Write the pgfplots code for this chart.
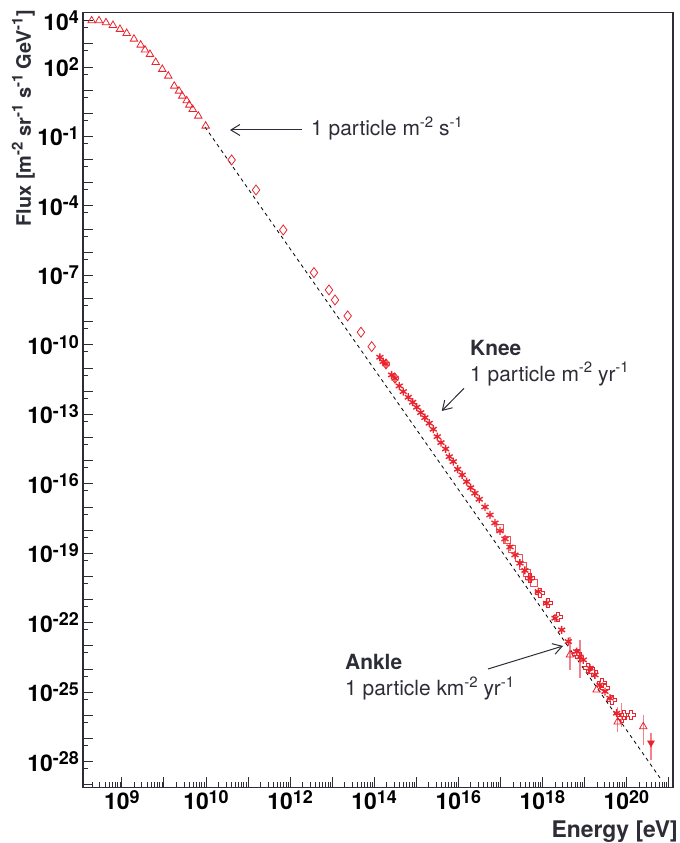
\documentclass[border=0pt]{standalone}
\usepackage{fontspec}
\setmainfont{TeX Gyre Heros}
\usepackage{pgfplots}
\pgfplotsset{compat=1.18}
\usetikzlibrary{arrows.meta}

\definecolor{mred}{RGB}{235,35,45}
\definecolor{errc}{RGB}{242,130,140}
\definecolor{axc}{RGB}{45,45,55}

% tick label 10^n, ROOT look
\newcommand{\tl}[1]{\fontsize{23}{23}\selectfont\bfseries 10\raisebox{6.5bp}{\fontsize{18}{18}\selectfont\bfseries #1}}
\newcommand{\su}[1]{\raisebox{0.42em}{\fontsize{15}{15}\selectfont #1}}

% open cross marker (ROOT style 28)
\pgfdeclareplotmark{ocross}{%
  \pgfpathmoveto{\pgfqpoint{-0.3\pgfplotmarksize}{\pgfplotmarksize}}%
  \pgfpathlineto{\pgfqpoint{0.3\pgfplotmarksize}{\pgfplotmarksize}}%
  \pgfpathlineto{\pgfqpoint{0.3\pgfplotmarksize}{0.3\pgfplotmarksize}}%
  \pgfpathlineto{\pgfqpoint{\pgfplotmarksize}{0.3\pgfplotmarksize}}%
  \pgfpathlineto{\pgfqpoint{\pgfplotmarksize}{-0.3\pgfplotmarksize}}%
  \pgfpathlineto{\pgfqpoint{0.3\pgfplotmarksize}{-0.3\pgfplotmarksize}}%
  \pgfpathlineto{\pgfqpoint{0.3\pgfplotmarksize}{-\pgfplotmarksize}}%
  \pgfpathlineto{\pgfqpoint{-0.3\pgfplotmarksize}{-\pgfplotmarksize}}%
  \pgfpathlineto{\pgfqpoint{-0.3\pgfplotmarksize}{-0.3\pgfplotmarksize}}%
  \pgfpathlineto{\pgfqpoint{-\pgfplotmarksize}{-0.3\pgfplotmarksize}}%
  \pgfpathlineto{\pgfqpoint{-\pgfplotmarksize}{0.3\pgfplotmarksize}}%
  \pgfpathlineto{\pgfqpoint{-0.3\pgfplotmarksize}{0.3\pgfplotmarksize}}%
  \pgfpathclose\pgfusepathqstroke}

% minor tick lists
\def\mxt{2e7}
\foreach \e in {7,...,20}{\foreach \m in {2,...,9}{\xdef\mxt{\mxt,\m e\e}}}
\def\myt{5e3}
\foreach \e in {-29,...,2}{\xdef\myt{\myt,5e\e}}

\begin{document}
\begin{tikzpicture}[x=1bp,y=1bp]
\path[use as bounding box] (-83,-55.7) rectangle (597,787.3);
\begin{axis}[
    at={(0,0)}, anchor=south west,
    scale only axis, width=590bp, height=774.6bp,
    xmode=log, ymode=log,
    xmin=1.19e7, xmax=1.28e21,
    ymin=7.85e-30, ymax=2.21e4,
    axis line style={axc, line width=1.3bp},
    tick style={axc, line width=0.9bp},
    major tick length=10bp, minor tick length=5bp,
    tick pos=left,
    xtick={1e8,1e9,1e10,1e11,1e12,1e13,1e14,1e15,1e16,1e17,1e18,1e19,1e20,1e21},
    xticklabels={\tl{9},,\tl{10},,\tl{12},,\tl{14},,\tl{16},,\tl{18},,\tl{20},},
    minor xtick/.expanded={\mxt},
    ytick={1e4,1e3,1e2,1e1,1,1e-1,1e-2,1e-3,1e-4,1e-5,1e-6,1e-7,1e-8,1e-9,1e-10,1e-11,1e-12,1e-13,1e-14,1e-15,1e-16,1e-17,1e-18,1e-19,1e-20,1e-21,1e-22,1e-23,1e-24,1e-25,1e-26,1e-27,1e-28,1e-29},
    yticklabels={\tl{4},,\tl{2},,,\tl{-1},,,\tl{-4},,,\tl{-7},,,\tl{-10},,,\tl{-13},,,\tl{-16},,,\tl{-19},,,\tl{-22},,,\tl{-25},,,\tl{-28},},
    minor ytick/.expanded={\myt},
    xticklabel style={anchor=north, inner sep=0pt, yshift=-3bp},
    yticklabel style={anchor=east, inner sep=0pt, xshift=-4bp},
  ]
  % E^-2.6 guide
  \addplot[black, dash pattern=on 3.5bp off 3.5bp, line width=0.8bp] coordinates {
    (9.46e9,0.257) (6.27e20,2.0e-29)
  };
  % low energy triangles
  \addplot[only marks, color=mred, mark=triangle, mark size=4.3bp, mark options={line width=0.8bp}] coordinates {
    (1.91e7,1.0e4) (2.86e7,1.0e4) (4.19e7,8.2e3) (6.14e7,6.32e3) (9.02e7,4.26e3)
    (1.30e8,2.86e3) (1.94e8,1.62e3) (2.80e8,893) (3.54e8,546) (4.66e8,355)
    (6.37e8,160) (9.14e8,80) (1.27e9,40.9) (1.76e9,15.1) (2.28e9,9.2)
    (2.73e9,5.6) (3.48e9,3.52) (4.01e9,2.29) (4.83e9,1.49) (6.56e9,0.767) (9.84e9,0.284)
  };
  % diamonds
  \addplot[only marks, color=mred, mark=diamond, mark size=5bp, mark options={line width=0.8bp}] coordinates {
    (4.08e10,9.66e-3) (1.55e11,4.89e-4) (6.89e11,9.18e-6) (3.70e12,1.32e-7)
    (8.41e12,2.36e-8) (1.17e13,8.71e-9) (2.34e13,1.78e-9) (4.85e13,3.52e-10)
    (8.73e13,8.39e-11) (1.91e14,1.50e-11) (3.13e14,3.63e-12)
  };
  % open squares on the band
  \addplot[only marks, color=mred!80, mark=square, mark size=3.3bp, mark options={line width=0.8bp}] coordinates {
    (9.82e16,1.25e-18) (1.44e17,3.78e-19) (1.89e17,1.55e-19) (2.77e17,6.32e-20)
    (3.46e17,2.85e-20) (4.31e17,1.42e-20) (6.31e17,5.26e-21)
  };
  % asterisks
  \addplot[only marks, color=mred, mark=asterisk, mark size=4bp, mark options={line width=1.4bp}] coordinates {
    (1.37e14,2.92e-11) (1.64e14,1.89e-11) (1.91e14,1.50e-11) (2.61e14,5.04e-12)
    (3.13e14,3.63e-12) (3.95e14,1.69e-12) (4.92e14,9.57e-13) (6.47e14,5.48e-13)
    (8.24e14,3.33e-13) (1.03e15,2.03e-13) (1.28e15,1.19e-13) (1.61e15,7.21e-14)
    (2.04e15,4.14e-14) (2.54e15,2.28e-14) (3.17e15,1.09e-14) (3.88e15,6.01e-15)
    (5.01e15,3.21e-15) (6.11e15,1.49e-15) (7.60e15,9.10e-16) (9.68e15,4.27e-16)
    (1.24e16,2.42e-16) (1.58e16,1.24e-16) (1.97e16,6.85e-17) (2.49e16,3.93e-17)
    (3.15e16,2.16e-17) (4.32e16,1.00e-17) (5.68e16,4.54e-18) (7.46e16,2.05e-18)
    (9.82e16,9.25e-19) (1.29e17,4.18e-19) (1.70e17,1.88e-19) (2.23e17,8.51e-20)
    (2.93e17,3.73e-20) (3.85e17,1.82e-20) (5.07e17,8.39e-21) (7.98e17,2.21e-21)
    (1.26e18,7.00e-22) (2.00e18,1.57e-22) (2.88e18,4.92e-23) (4.13e18,1.54e-23)
    (6.55e18,5.69e-24) (9.40e18,2.49e-24) (1.36e19,1.09e-24) (1.78e19,5.61e-25)
    (2.34e19,2.07e-25) (3.08e19,1.07e-25) (4.06e19,5.53e-26) (5.85e19,1.24e-26)
  };
  % open crosses
  \addplot[only marks, color=mred, mark=ocross, mark size=4.4bp, mark options={line width=0.9bp}] coordinates {
    (5.07e17,8.65e-21) (8.77e17,1.95e-21) (1.36e18,7.19e-22) (2.35e18,1.79e-22)
    (6.65e18,4.52e-24) (1.22e19,1.12e-24) (1.60e19,7.55e-25) (2.62e19,2.53e-25)
    (3.09e19,1.54e-25) (4.53e19,4.67e-26) (8.73e19,1.05e-26) (1.28e20,1.05e-26)
  };
  \addplot[only marks, color=mred, mark=triangle, mark size=4.3bp, mark options={line width=0.8bp}] coordinates {
    (1.95e19,1.26e-25)
  };
  % points with error bars
  \addplot[only marks, color=mred, mark=triangle, mark size=4.3bp, mark options={line width=0.8bp},
    error bars/.cd, y dir=both, y explicit, error mark=none,
    error bar style={color=errc, line width=1.3bp}] coordinates {
    (4.53e18,4.09e-24) += (0,2.11e-23) -= (0,3.17e-24)
    (6.18e19,5.24e-27) += (0,1.88e-26) -= (0,3.24e-27)
    (2.51e20,3.28e-27) += (0,7.2e-27) -= (0,2.75e-27)
  };
  \addplot[only marks, color=mred, mark=asterisk, mark size=4bp, mark options={line width=1.4bp},
    error bars/.cd, y dir=both, y explicit, error mark=none,
    error bar style={color=errc, line width=1.3bp}] coordinates {
    (7.83e18,3.35e-24) += (0,1.49e-23) -= (0,2.93e-24)
  };
  \addplot[only marks, color=mred, mark=ocross, mark size=4.4bp, mark options={line width=0.9bp},
    error bars/.cd, y dir=both, y explicit, error mark=none,
    error bar style={color=errc, line width=1.3bp}] coordinates {
    (7.69e19,7.8e-27) += (0,2.69e-26) -= (0,4.61e-27)
  };
  \addplot[only marks, color=mred, mark=triangle*, mark size=4bp, mark options={rotate=180},
    error bars/.cd, y dir=both, y explicit, error mark=none,
    error bar style={color=errc, line width=1.3bp}] coordinates {
    (3.83e20,6.49e-28) += (0,1.11e-27) -= (0,5.29e-28)
  };
\end{axis}

% annotations
\begin{scope}[font=\fontsize{21}{25}\selectfont, color=axc]
  \draw[line width=1bp, -{Straight Barb[length=9bp,width=11bp]}] (218.7,657.3) -- (147,657.3);
  \node[anchor=base west, inner sep=0pt] at (228,651.3) {1 particle m\su{-2} s\su{-1}};
  \node[anchor=base west, inner sep=0pt, font=\fontsize{21}{25}\selectfont\bfseries] at (387,431.3) {Knee};
  \node[anchor=base west, inner sep=0pt] at (387,405.6) {1 particle m\su{-2} yr\su{-1}};
  \draw[line width=1bp, -{Straight Barb[length=9bp,width=11bp]}] (381,399) -- (358.7,376.3);
  \node[anchor=base west, inner sep=0pt, font=\fontsize{21}{25}\selectfont\bfseries] at (262,117.3) {Ankle};
  \node[anchor=base west, inner sep=0pt] at (262,91.3) {1 particle km\su{-2} yr\su{-1}};
  \draw[line width=1bp, -{Straight Barb[length=9bp,width=11bp]}] (405,118.3) -- (480,141.3);
\end{scope}
% axis titles
\node[rotate=90, anchor=base east, inner sep=0pt, color=axc, font=\fontsize{20}{24}\selectfont\bfseries] at (-52,777.3) {Flux [m\su{-2} sr\su{-1} s\su{-1} GeV\su{-1}]};
\node[anchor=base east, inner sep=0pt, color=axc, font=\fontsize{23}{27}\selectfont\bfseries] at (595,-50) {Energy [eV]};
\end{tikzpicture}
\end{document}
